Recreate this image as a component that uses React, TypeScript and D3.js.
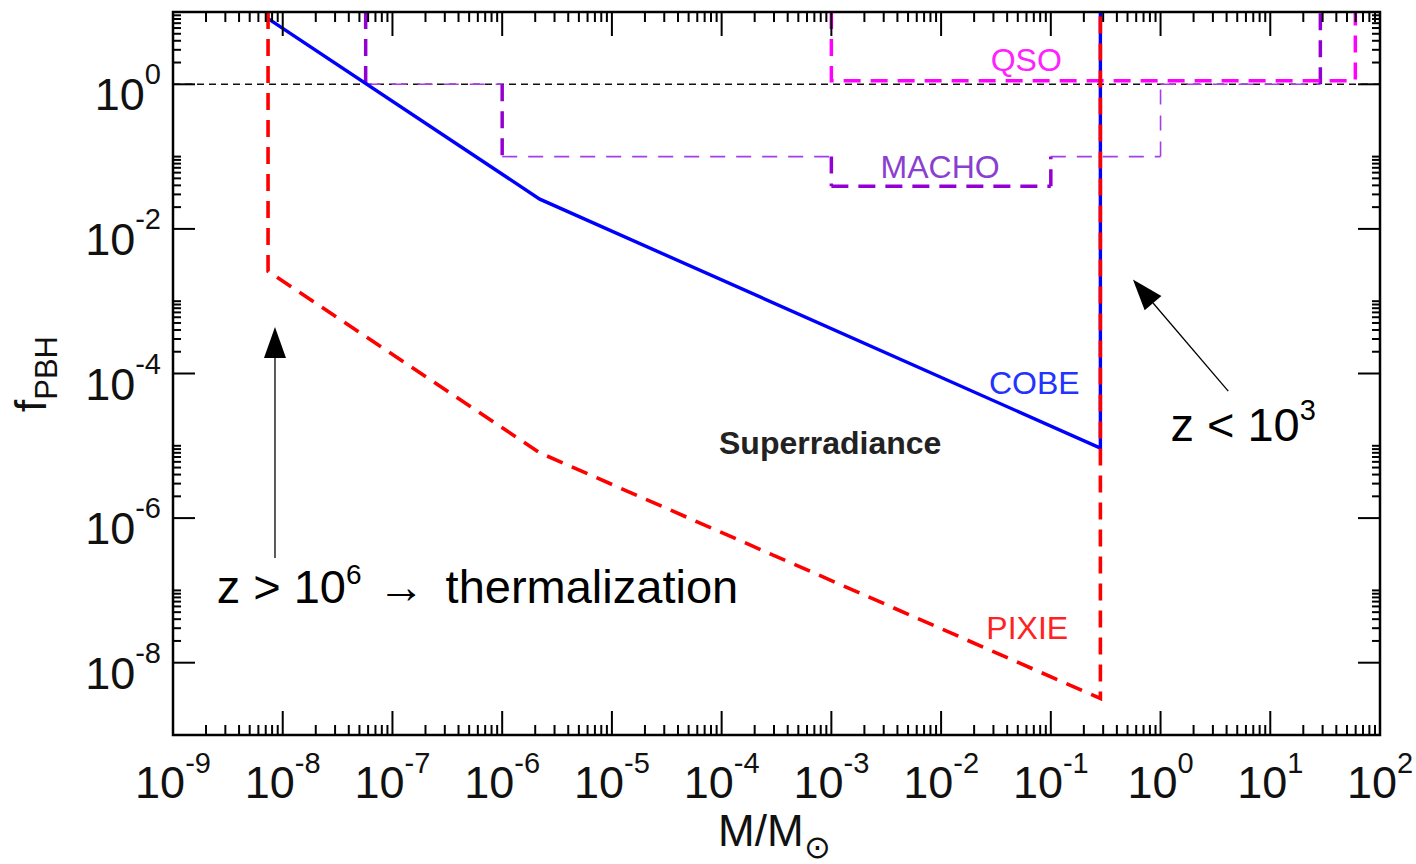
import React, { useEffect, useRef } from 'react'
import * as d3 from 'd3'

// limits (M in solar masses, f = fraction of dark matter in PBHs)
const cobeMass = [7.35e-9, 2.2e-6, 0.283, 0.283]
const cobeF = [8.1, 0.0258, 9.3e-6, 10]

const pixieMass = [7.35e-9, 7.35e-9, 2.2e-6, 0.283, 0.283]
const pixieF = [10, 2.6e-3, 8.0e-6, 3.2e-9, 10]

const machoMass = [5.7e-8, 5.7e-8, 1e-6, 1e-6, 1e-3, 1e-3, 0.1, 0.1, 1, 1, 28.6, 28.6]
const machoF = [10, 1, 1, 0.1, 0.1, 0.039, 0.039, 0.1, 0.1, 1, 1, 10]

const qsoMass = [1e-3, 1e-3, 59.6, 59.6]
const qsoF = [10, 1.12, 1.12, 10]

const xTickExps = [-9, -8, -7, -6, -5, -4, -3, -2, -1, 0, 1, 2]
const yTickExps = [-8, -6, -4, -2, 0]

// curve labels: [text, mass, f, colour]
const curveLabels: [string, number, number, string][] = [
  ['QSO', 0.0597, 1.51, '#ff22ff'],
  ['MACHO', 0.0098, 0.0503, '#8a3fd0'],
  ['COBE', 0.0706, 5.2e-5, '#2233ff'],
  ['PIXIE', 0.061, 2.1e-8, '#ff2222'],
]

// arrows: [massTail, fTail, massTip, fTip]
const arrows: [number, number, number, number][] = [
  [8.5e-9, 2.8e-7, 8.5e-9, 4.4e-4],
  [4.14, 5.7e-5, 0.56, 2.0e-3],
]

const FONT = '"Liberation Sans", Arial, Helvetica, sans-serif'

export default function App() {
  const ref = useRef<SVGSVGElement>(null)

  useEffect(() => {
    const W = 1416, H = 864
    const margin = { top: 12, right: 36, bottom: 129, left: 173 }
    const svg = d3.select(ref.current)
    svg.selectAll('*').remove()

    const x = d3.scaleLog().domain([1e-9, 1e2]).range([margin.left, W - margin.right])
    const y = d3.scaleLog().domain([1e-9, 1e1]).range([H - margin.bottom, margin.top])
    const [x0, x1] = x.range()
    const [y0, y1] = y.range()

    svg.append('clipPath').attr('id', 'plotclip')
      .append('rect').attr('x', x0).attr('y', y1).attr('width', x1 - x0).attr('height', y0 - y1)

    const plot = svg.append('g').attr('clip-path', 'url(#plotclip)')
    const line = d3.line<[number, number]>().x(d => x(d[0])).y(d => y(d[1]))
    const zip = (a: number[], b: number[]) => a.map((v, i) => [v, b[i]] as [number, number])

    // f = 1 reference line
    plot.append('line')
      .attr('x1', x0).attr('x2', x1).attr('y1', y(1)).attr('y2', y(1))
      .attr('stroke', '#111').attr('stroke-width', 1.4).attr('stroke-dasharray', '7,5')

    // MACHO: thick and thin dashed pieces
    const machoThick = [true, false, true, false, true, true, true, false, false, false, true]
    const machoPts = zip(machoMass, machoF)
    machoPts.slice(0, -1).forEach((p, i) => {
      const q = machoPts[i + 1]
      plot.append('path')
        .attr('d', line([p, q]))
        .attr('fill', 'none')
        .attr('stroke', machoThick[i] ? '#9400d3' : '#a43ee8')
        .attr('stroke-width', machoThick[i] ? 3.5 : 1.6)
        .attr('stroke-dasharray', machoThick[i] ? '17,10' : '15,11')
    })

    plot.append('path')
      .attr('d', line(zip(qsoMass, qsoF)))
      .attr('fill', 'none').attr('stroke', '#ff00ff').attr('stroke-width', 3.5)
      .attr('stroke-dasharray', '17,10')

    plot.append('path')
      .attr('d', line(zip(cobeMass, cobeF)))
      .attr('fill', 'none').attr('stroke', '#0000ff').attr('stroke-width', 3.4)

    plot.append('path')
      .attr('d', line(zip(pixieMass, pixieF)))
      .attr('fill', 'none').attr('stroke', '#ff0000').attr('stroke-width', 3.6)
      .attr('stroke-dasharray', '17,10')

    // ticks
    const ticks = svg.append('g').attr('stroke', '#000')
    const xMinor: number[] = []
    xTickExps.slice(0, -1).forEach(e => d3.range(2, 10).forEach(m => xMinor.push(m * Math.pow(10, e))))
    const xMajor = xTickExps.map(e => Math.pow(10, e))
    const yMinor: number[] = []
    yTickExps.forEach(e => d3.range(2, 11).forEach(m => yMinor.push(m * Math.pow(10, e))))
    const yMajor = yTickExps.map(e => Math.pow(10, e))

    const addX = (vals: number[], len: number, w: number) => {
      vals.forEach(v => {
        ticks.append('line').attr('x1', x(v)).attr('x2', x(v)).attr('y1', y0).attr('y2', y0 - len).attr('stroke-width', w)
        ticks.append('line').attr('x1', x(v)).attr('x2', x(v)).attr('y1', y1).attr('y2', y1 + len).attr('stroke-width', w)
      })
    }
    const addY = (vals: number[], len: number, w: number) => {
      vals.forEach(v => {
        ticks.append('line').attr('y1', y(v)).attr('y2', y(v)).attr('x1', x0).attr('x2', x0 + len).attr('stroke-width', w)
        ticks.append('line').attr('y1', y(v)).attr('y2', y(v)).attr('x1', x1).attr('x2', x1 - len).attr('stroke-width', w)
      })
    }
    addX(xMinor, 10, 2)
    addX(xMajor, 24, 2)
    addY(yMinor, 8, 2)
    addY(yMajor, 22, 2)

    svg.append('rect')
      .attr('x', x0).attr('y', y1).attr('width', x1 - x0).attr('height', y0 - y1)
      .attr('fill', 'none').attr('stroke', '#000').attr('stroke-width', 2.5)

    // tick labels
    xTickExps.forEach(e => {
      const t = svg.append('text')
        .attr('x', x(Math.pow(10, e))).attr('y', y0 + 63)
        .attr('text-anchor', 'middle').attr('font-family', FONT).attr('font-size', 45).attr('fill', '#111')
      t.append('tspan').text('10')
      t.append('tspan').attr('font-size', 29).attr('dy', -25).text(String(e))
    })
    yTickExps.forEach(e => {
      const t = svg.append('text')
        .attr('x', x0 - 12).attr('y', y(Math.pow(10, e)) + 26)
        .attr('text-anchor', 'end').attr('font-family', FONT).attr('font-size', 45).attr('fill', '#111')
      t.append('tspan').text('10')
      t.append('tspan').attr('font-size', 29).attr('dy', -26).text(String(e))
    })

    // axis titles
    const xt = svg.append('text')
      .attr('x', 718).attr('y', 846)
      .attr('font-family', FONT).attr('font-size', 44).attr('fill', '#111')
    xt.append('tspan').text('M/M')
    xt.append('tspan').attr('font-size', 32).attr('dy', 12).text('\u2299')

    const yt = svg.append('text')
      .attr('transform', `translate(46, 412) rotate(-90)`)
      .attr('font-family', FONT).attr('font-size', 44).attr('fill', '#111')
    yt.append('tspan').text('f')
    yt.append('tspan').attr('font-size', 31).attr('dy', 11).text('PBH')

    // curve labels
    curveLabels.forEach(([txt, m, f, c]) => {
      svg.append('text')
        .attr('x', x(m)).attr('y', y(f))
        .attr('text-anchor', 'middle').attr('font-family', FONT).attr('font-size', 32)
        .attr('fill', c).text(txt)
    })

    svg.append('text')
      .attr('x', x(9.75e-4)).attr('y', y(7.8e-6))
      .attr('text-anchor', 'middle').attr('font-family', FONT).attr('font-size', 32)
      .attr('font-weight', 'bold').attr('fill', '#222').text('Superradiance')

    const a1 = svg.append('text')
      .attr('x', x(2.5e-9)).attr('y', y(6.6e-8))
      .attr('font-family', FONT).attr('font-size', 47).attr('fill', '#000')
    a1.append('tspan').text('z > 10')
    a1.append('tspan').attr('font-size', 28).attr('dy', -19).text('6')
    a1.append('tspan').attr('dy', 19).attr('dx', 16).text('\u2192')
    a1.append('tspan').attr('dx', 21).text('thermalization')

    const a2 = svg.append('text')
      .attr('x', x(1.23)).attr('y', y(1.17e-5))
      .attr('font-family', FONT).attr('font-size', 47).attr('fill', '#000')
    a2.append('tspan').text('z < 10')
    a2.append('tspan').attr('font-size', 29).attr('dy', -21).text('3')

    // arrows
    arrows.forEach(([mt, ft, mh, fh]) => {
      const tx = x(mt), ty = y(ft), hx = x(mh), hy = y(fh)
      const dx = hx - tx, dy = hy - ty
      const L = Math.hypot(dx, dy)
      const ux = dx / L, uy = dy / L
      const hl = 31, hw = 11
      const bx = hx - ux * hl, by = hy - uy * hl
      svg.append('line').attr('x1', tx).attr('y1', ty).attr('x2', bx).attr('y2', by)
        .attr('stroke', '#000').attr('stroke-width', 1.3)
      svg.append('path')
        .attr('d', `M${hx},${hy}L${bx - uy * hw},${by + ux * hw}L${bx + uy * hw},${by - ux * hw}Z`)
        .attr('fill', '#000')
    })
  }, [])

  return (
    <svg ref={ref} width={1416} height={864}
      style={{ position: 'absolute', left: 0, top: 0, background: '#fff' }} />
  )
}
